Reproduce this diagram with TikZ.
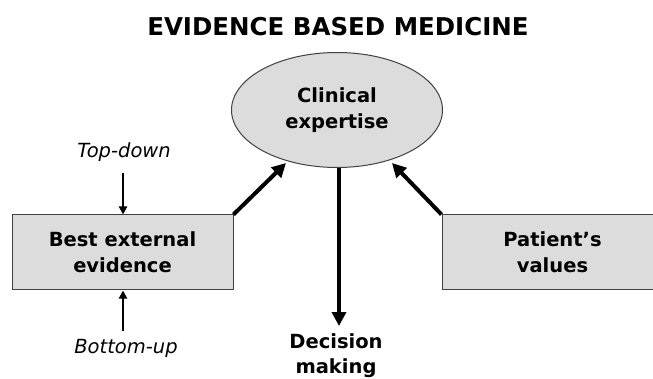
\documentclass[tikz,border=0pt]{standalone}
\usepackage{fontspec}
\setmainfont{DejaVu Sans}
\usetikzlibrary{shapes.geometric,arrows.meta}
\definecolor{boxgray}{HTML}{DCDCDC}
\begin{document}
\begin{tikzpicture}[x=1pt,y=-1pt,
  lbl/.style={font=\bfseries\fontsize{19.5}{26}\selectfont, align=center, inner sep=0pt},
  itl/.style={font=\itshape\fontsize{19.5}{23}\selectfont, inner sep=0pt},
  boxnode/.style={draw=black!75, fill=boxgray, line width=1pt, minimum width=221pt, minimum height=75pt, lbl},
  thick arrow/.style={line width=4pt, -{Triangle[length=14pt,width=14pt]}},
  thin arrow/.style={line width=2pt, -{Triangle[length=8pt,width=8pt]}}]
\useasboundingbox (0,0) rectangle (653,379);
\clip (0,0) rectangle (653,379);
\node[font=\bfseries\fontsize{24.5}{28}\selectfont, inner sep=0pt] (title) at (338,27) {EVIDENCE BASED MEDICINE};
\node[ellipse, draw=black!75, fill=boxgray, line width=1pt, minimum width=211pt, minimum height=115pt, lbl] (ce) at (337,110) {Clinical\\expertise};
\node[boxnode] (bee) at (122.5,252.5) {Best external\\evidence};
\node[boxnode] (pv) at (552.5,252.5) {Patient's\\values};
\node[itl] (td) at (124,152) {Top-down};
\node[itl] (bu) at (126,348) {Bottom-up};
\node[lbl, font=\bfseries\fontsize{19.5}{25}\selectfont] (dm) at (336,356) {Decision\\making};
\coordinate (tdstart) at (123,173);
\coordinate (bustart) at (123,331);
\coordinate (lt) at (286,163);
\coordinate (rt) at (392,163);
\coordinate (dtip) at (339,326);
\draw[thin arrow] (tdstart) -- (bee.north -| tdstart);
\draw[thin arrow] (bustart) -- (bee.south -| bustart);
\draw[thick arrow] (bee.north east) -- (lt);
\draw[thick arrow] (pv.north west) -- (rt);
\draw[thick arrow] (ce.south -| dtip) -- (dtip);
\end{tikzpicture}
\end{document}
